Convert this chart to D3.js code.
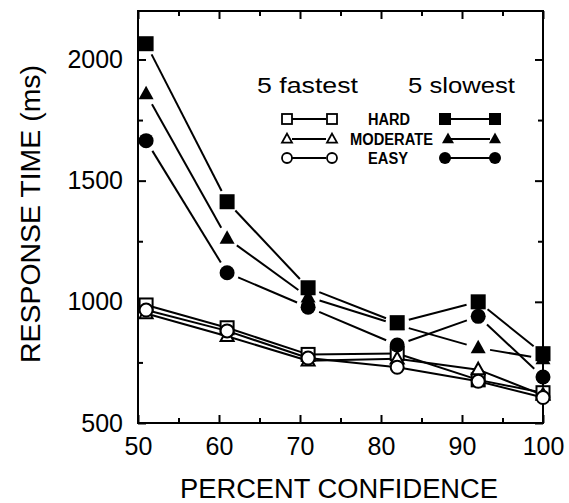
<!DOCTYPE html>
<html><head><meta charset="utf-8">
<script src="https://cdn.jsdelivr.net/npm/d3@7/dist/d3.min.js"></script>
<style>body{margin:0;background:#fff}svg{display:block}text{font-family:"Liberation Sans",Arial,sans-serif;fill:#000}</style>
</head><body>
<svg id="c" width="569" height="503"></svg>
<script>
const confidence = [51, 61, 71, 82, 92, 100];
const fastHard = [987, 893, 783, 787, 678, 625];
const fastModerate = [952, 858, 757, 765, 720, 615];
const fastEasy = [966, 880, 768, 730, 672, 605];
const slowHard = [2065, 1413, 1058, 914, 1000, 786];
const slowModerate = [1858, 1262, 1020, 905, 810, 765];
const slowEasy = [1665, 1120, 978, 822, 940, 690];
const xTicks = [50, 60, 70, 80, 90, 100];
const yTicks = [500, 1000, 1500, 2000];
const legendLabels = ["HARD", "MODERATE", "EASY"];
const groupTitles = ["5 fastest", "5 slowest"];

const svg = d3.select("#c");
const L = 138, R = 543, T = 11, B = 423;
const x = d3.scaleLinear().domain([50, 100]).range([L, R]);
const y = d3.scaleLinear().domain([500, 2200]).range([B, T]);

// axes
const majX = xTicks, minX = d3.range(55, 100, 10);
const majY = yTicks, minY = d3.range(750, 2200, 500);
function styleAxis(g){ g.select(".domain").remove(); g.selectAll("line").attr("stroke","#000").attr("stroke-width",2); g.selectAll("text").style("font-size","25px").attr("fill","#000"); }
svg.append("g").attr("transform",`translate(0,${B})`).call(d3.axisBottom(x).tickValues(majX).tickSize(-8).tickPadding(14).tickFormat(d3.format("d"))).call(styleAxis);
svg.append("g").attr("transform",`translate(0,${B})`).call(d3.axisBottom(x).tickValues(minX).tickSize(-5).tickFormat("")).call(styleAxis);
svg.append("g").attr("transform",`translate(0,${T})`).call(d3.axisTop(x).tickValues(majX).tickSize(-8).tickFormat("")).call(styleAxis);
svg.append("g").attr("transform",`translate(0,${T})`).call(d3.axisTop(x).tickValues(minX).tickSize(-5).tickFormat("")).call(styleAxis);
svg.append("g").attr("transform",`translate(${L},0)`).call(d3.axisLeft(y).tickValues(majY).tickSize(-8).tickPadding(15).tickFormat(d3.format("d"))).call(styleAxis);
svg.append("g").attr("transform",`translate(${L},0)`).call(d3.axisLeft(y).tickValues(minY).tickSize(-5).tickFormat("")).call(styleAxis);
svg.append("g").attr("transform",`translate(${R},0)`).call(d3.axisRight(y).tickValues(majY).tickSize(-8).tickFormat("")).call(styleAxis);
svg.append("g").attr("transform",`translate(${R},0)`).call(d3.axisRight(y).tickValues(minY).tickSize(-5).tickFormat("")).call(styleAxis);
svg.append("rect").attr("x",L).attr("y",T).attr("width",R-L).attr("height",B-T).attr("fill","none").attr("stroke","#000").attr("stroke-width",2);

// axis titles
svg.append("text").attr("x",339).attr("y",498).attr("text-anchor","middle").style("font-size","27px").attr("textLength",318).attr("lengthAdjust","spacingAndGlyphs").text("PERCENT CONFIDENCE");
svg.append("text").attr("transform","translate(40,214) rotate(-90)").attr("text-anchor","middle").style("font-size","28px").attr("textLength",298).attr("lengthAdjust","spacingAndGlyphs").text("RESPONSE TIME (ms)");

// markers
function marker(g, shape, cx, cy, s, filled, sw){
  const fill = filled ? "#000" : "#fff";
  if (shape === "square") g.append("rect").attr("x",cx-s/2).attr("y",cy-s/2).attr("width",s).attr("height",s).attr("fill",fill).attr("stroke","#000").attr("stroke-width",filled?0:sw);
  else if (shape === "triangle") { const h = s*0.9; g.append("path").attr("d",`M${cx},${cy-h*0.6}L${cx+s/2},${cy+h*0.4}L${cx-s/2},${cy+h*0.4}Z`).attr("fill",fill).attr("stroke","#000").attr("stroke-width",filled?0:sw).attr("stroke-linejoin","miter"); }
  else g.append("circle").attr("cx",cx).attr("cy",cy).attr("r",s/2).attr("fill",fill).attr("stroke","#000").attr("stroke-width",filled?0:sw);
}

const series = [
  {v: slowHard, shape:"square", filled:true},
  {v: slowModerate, shape:"triangle", filled:true},
  {v: slowEasy, shape:"circle", filled:true},
  {v: fastHard, shape:"square", filled:false},
  {v: fastModerate, shape:"triangle", filled:false},
  {v: fastEasy, shape:"circle", filled:false}
];
const lines = svg.append("g"), marks = svg.append("g");
series.forEach(s => {
  const pts = confidence.map((c,i)=>[x(c), y(s.v[i])]);
  const trim = s.filled ? 12 : 0;
  for (let i=0;i<pts.length-1;i++){
    const [x0,y0]=pts[i],[x1,y1]=pts[i+1];
    const d=Math.hypot(x1-x0,y1-y0), ux=(x1-x0)/d, uy=(y1-y0)/d;
    lines.append("line").attr("x1",x0+ux*trim).attr("y1",y0+uy*trim).attr("x2",x1-ux*trim).attr("y2",y1-uy*trim).attr("stroke","#000").attr("stroke-width",2);
  }
});
[3,4,5,0,1,2].forEach(k => { const s = series[k]; confidence.forEach((c,i)=>marker(marks, s.shape, x(c), y(s.v[i]), s.filled?15:13, s.filled, 2)); });

// legend
const lg = svg.append("g");
lg.append("text").attr("x",257).attr("y",93).style("font-size","22px").attr("textLength",101).attr("lengthAdjust","spacingAndGlyphs").text(groupTitles[0]);
lg.append("text").attr("x",408).attr("y",93).style("font-size","22px").attr("textLength",107).attr("lengthAdjust","spacingAndGlyphs").text(groupTitles[1]);
const rowY = [119, 139, 158];
const shapes = ["square","triangle","circle"];
const labX = [[368,42],[350,83],[368,40]];
legendLabels.forEach((lab,i)=>{
  const yy = rowY[i];
  lg.append("line").attr("x1",292).attr("x2",326).attr("y1",yy).attr("y2",yy).attr("stroke","#000").attr("stroke-width",2);
  marker(lg, shapes[i], 287, yy, 10, false, 1.8);
  marker(lg, shapes[i], 332, yy, 10, false, 1.8);
  lg.append("line").attr("x1",450).attr("x2",490).attr("y1",yy).attr("y2",yy).attr("stroke","#000").attr("stroke-width",2);
  marker(lg, shapes[i], i===1?448:445, yy, 12, true, 0);
  marker(lg, shapes[i], 495, yy, 12, true, 0);
  lg.append("text").attr("x",labX[i][0]).attr("y",yy+6).style("font-size","16px").style("font-weight","bold").attr("textLength",labX[i][1]).attr("lengthAdjust","spacingAndGlyphs").text(lab);
});
</script>
</body></html>
